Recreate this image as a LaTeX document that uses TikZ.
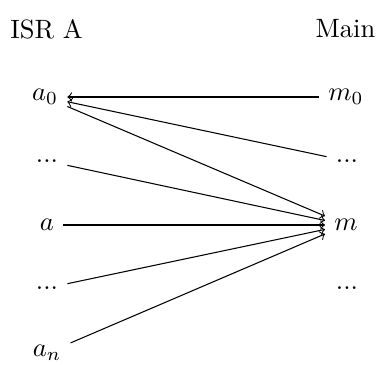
\documentclass[tikz,border=0pt]{standalone}
\begin{document}
\begin{tikzpicture}[x=0.3774pt,y=-0.3774pt,
  lbl/.style={inner sep=3.33pt},
  conn/.style={->}]
\useasboundingbox (0,0) rectangle (379,365);
\node[lbl] (isr) at (46.5,29) {ISR A};
\node[lbl] (main) at (345.5,29) {Main};
\node[lbl] (a0) at (45,97) {$a_0$};
\node[lbl] (m0) at (346,97) {$m_0$};
\node[lbl] (ld1) at (47,161) {...};
\node[lbl] (rd1) at (347,161) {...};
\node[lbl] (a) at (47,225) {$a$};
\node[lbl] (m) at (346,225) {$m$};
\node[lbl] (ld2) at (47,288) {...};
\node[lbl] (rd2) at (347,288) {...};
\node[lbl] (an) at (47,353) {$a_n$};
\draw[conn] (m0) -- (a0);
\draw[conn] (rd1) -- (a0);
\draw[conn] (a0) -- (m);
\draw[conn] (ld1) -- (m);
\draw[conn] (a) -- (m);
\draw[conn] (ld2) -- (m);
\draw[conn] (an) -- (m);
\end{tikzpicture}
\end{document}
